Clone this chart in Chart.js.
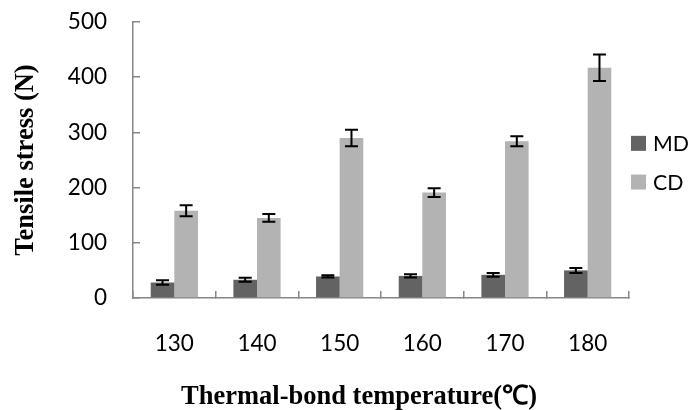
<!DOCTYPE html>
<html>
<head>
<meta charset="utf-8">
<script src="https://cdn.jsdelivr.net/npm/chart.js@4.4.1/dist/chart.umd.min.js"></script>
<style>
  html, body { margin: 0; padding: 0; background: #ffffff; }
  #wrap { width: 692px; height: 410px; position: relative; }
</style>
</head>
<body>
<div id="wrap"><canvas id="c"></canvas></div>
<script>
const categories = ['130', '140', '150', '160', '170', '180'];
const seriesNames = ['MD', 'CD'];
const mdValues = [28, 33, 39, 40, 42, 50];
const cdValues = [158, 145, 290, 191, 284, 417];
const mdErrors = [4, 3.5, 2, 3, 3.5, 4.5];
const cdErrors = [10, 7, 15, 8, 9, 24];
const yTicks = [0, 100, 200, 300, 400, 500];
const xTitle = 'Thermal-bond temperature(\u2103)';
const yTitle = 'Tensile stress (N)';

const errorBarPlugin = {
  id: 'errorBars',
  afterDatasetsDraw(chart) {
    const ctx = chart.ctx;
    const yScale = chart.scales.y;
    ctx.save();
    ctx.strokeStyle = '#000000';
    ctx.lineWidth = 2;
    chart.data.datasets.forEach((ds, di) => {
      const meta = chart.getDatasetMeta(di);
      meta.data.forEach((bar, i) => {
        const v = ds.data[i];
        const e = ds.errors[i];
        const x = bar.x;
        const yHi = yScale.getPixelForValue(v + e);
        const yLo = yScale.getPixelForValue(v - e);
        const half = 6.5;
        ctx.beginPath();
        ctx.moveTo(x, yHi); ctx.lineTo(x, yLo);
        ctx.moveTo(x - half, yHi); ctx.lineTo(x + half, yHi);
        ctx.moveTo(x - half, yLo); ctx.lineTo(x + half, yLo);
        ctx.stroke();
      });
    });
    ctx.restore();
  }
};

const legendPlugin = {
  id: 'sideLegend',
  afterDraw(chart) {
    const ctx = chart.ctx;
    const area = chart.chartArea;
    const mid = (area.top + area.bottom) / 2 + 2.7;
    const step = 38.7;
    ctx.save();
    ctx.font = '21.3px Lato';
    ctx.textBaseline = 'middle';
    ctx.textAlign = 'left';
    chart.data.datasets.forEach((ds, i) => {
      const cy = mid + (i - (chart.data.datasets.length - 1) / 2) * step;
      const bx = area.right + 2;
      ctx.fillStyle = ds.backgroundColor;
      ctx.fillRect(bx, cy - 7.5, 15, 15);
      ctx.fillStyle = '#000000';
      ctx.fillText(ds.label, bx + 22, cy + 1);
    });
    ctx.restore();
  }
};

new Chart(document.getElementById('c'), {
  type: 'bar',
  data: {
    labels: categories,
    datasets: [
      { label: seriesNames[0], data: mdValues, errors: mdErrors, backgroundColor: '#636363', borderWidth: 0 },
      { label: seriesNames[1], data: cdValues, errors: cdErrors, backgroundColor: '#b3b3b3', borderWidth: 0 }
    ]
  },
  options: {
    responsive: true,
    maintainAspectRatio: false,
    animation: false,
    layout: { padding: { left: 26, right: 0, top: 22, bottom: 0 } },
    datasets: { bar: { categoryPercentage: 2 / 3.5, barPercentage: 1 } },
    plugins: {
      legend: { display: false },
      tooltip: { enabled: false },
      title: {
        display: true,
        position: 'bottom',
        text: xTitle,
        color: '#000000',
        font: { family: 'Liberation Serif', size: 26.5, weight: 'bold', lineHeight: 1.0 },
        padding: { top: 0, bottom: 0 }
      }
    },
    scales: {
      x: {
        offset: true,
        grid: { display: true, offset: true, drawOnChartArea: false, drawTicks: true, tickLength: -7, color: '#868686', lineWidth: 1.5 },
        border: { display: true, color: '#868686', width: 1.5 },
        ticks: { color: '#000000', font: { family: 'Lato', size: 22.5 }, padding: 39, maxRotation: 0 },
        afterFit(scale) { scale.height = 85.5; scale.paddingLeft = 0; scale.paddingRight = 0; }
      },
      y: {
        min: 0,
        max: 500,
        afterBuildTicks(scale) { scale.ticks = yTicks.map(v => ({ value: v })); },
        grid: { display: true, drawOnChartArea: false, drawTicks: true, tickLength: -7, color: '#868686', lineWidth: 1.5 },
        border: { display: true, color: '#868686', width: 1.5 },
        ticks: { color: '#000000', font: { family: 'Lato', size: 22.5 }, padding: 33 },
        title: {
          display: true,
          text: yTitle,
          color: '#000000',
          font: { family: 'Liberation Serif', size: 26.5, weight: 'bold', lineHeight: 1.0 },
          padding: { top: -13, bottom: 0 }
        },
        afterFit(scale) { scale.width = 107; scale.paddingTop = 12; scale.paddingBottom = 12; }
      },
      legendSpace: {
        type: 'linear',
        position: 'right',
        display: true,
        grid: { display: false, drawTicks: false },
        border: { display: false },
        ticks: { display: false },
        afterFit(scale) { scale.width = 63; scale.paddingTop = 0; scale.paddingBottom = 0; }
      }
    }
  },
  plugins: [errorBarPlugin, legendPlugin]
});
</script>
</body>
</html>
